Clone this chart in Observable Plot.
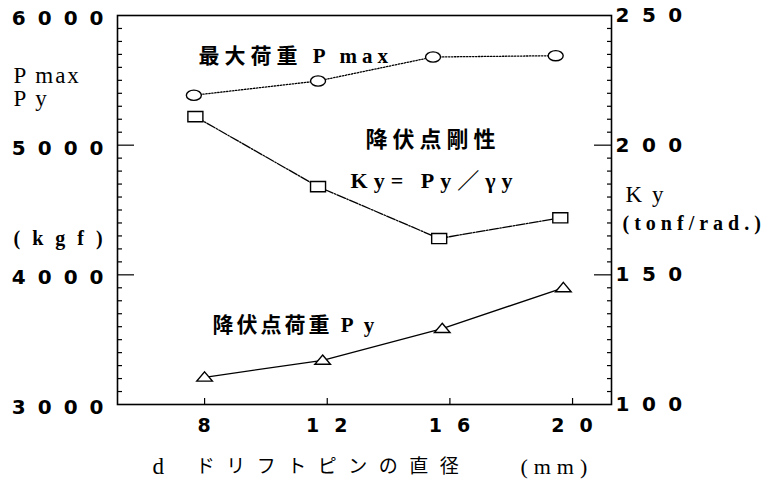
<!DOCTYPE html>
<html><head><meta charset="utf-8">
<script src="https://cdn.jsdelivr.net/npm/d3@7"></script>
<script src="https://cdn.jsdelivr.net/npm/@observablehq/plot@0.6"></script>
<style>
body{margin:0;background:#fff;}
g[aria-description="yl"] text{letter-spacing:12px;}
g[aria-description="yr"] text{letter-spacing:12.5px;}
g[aria-description="xl"] text{letter-spacing:15px;}
g[aria-description="ls2"] text{letter-spacing:2px;}
g[aria-description="ls3"] text{letter-spacing:3px;}
g[aria-description="ls5"] text{letter-spacing:5px;}
g[aria-description="ls6"] text{letter-spacing:6px;}
g[aria-description="ls11"] text{letter-spacing:11.5px;}
g[aria-description="ls12"] text{letter-spacing:12px;}
</style></head><body><div id="chart"></div>
<script>
// ---- data ----
const xTicks = [8, 12, 16, 20];
const leftTicks = [3000, 4000, 5000, 6000];
const rightTicks = [100, 150, 200, 250];

// 最大荷重 Pmax (kgf)
const pmaxD = [7.65, 11.7, 15.45, 19.45];
const pmaxV = [5385, 5495, 5680, 5690];
// 降伏点剛性 Ky (tonf/rad.)
const kyD = [7.7, 11.7, 15.65, 19.6];
const kyV = [211, 184, 164, 172];
// 降伏点荷重 Py (kgf)
const pyD = [8.0, 11.85, 15.75, 19.7];
const pyV = [3210, 3340, 3585, 3900];

// text labels (data units)
const labelText = ["最大荷重 P max", "降伏点剛性", "Ky= Py／γy", "降伏点荷重 P y"];
const labelD = [7.8, 13.25, 12.76, 8.26];
const labelV = [5684, 5044, 4727, 3609];

// ---- helpers ----
const ky2y = k => 3000 + (k - 100) * 20;
const y2ky = v => (v - 3000) / 20 + 100;
const tbl = (ds, vs, f = v => v) => ds.map((d, i) => ({d, v: f(vs[i])}));
const pmaxData = tbl(pmaxD, pmaxV);
const kyData = tbl(kyD, kyV, ky2y);
const pyData = tbl(pyD, pyV);

const ellipse = {draw(ctx, size) {
  const r = Math.sqrt(size / Math.PI), rx = r * 1.25, ry = r * 0.85, k = 0.5523;
  ctx.moveTo(rx, 0);
  ctx.bezierCurveTo(rx, ry * k, rx * k, ry, 0, ry);
  ctx.bezierCurveTo(-rx * k, ry, -rx, ry * k, -rx, 0);
  ctx.bezierCurveTo(-rx, -ry * k, -rx * k, -ry, 0, -ry);
  ctx.bezierCurveTo(rx * k, -ry, rx, -ry * k, rx, 0);
  ctx.closePath();
}};
const rectSym = {draw(ctx, size) {
  const r = Math.sqrt(size / Math.PI), w = r * 1.25, h = r * 0.85;
  ctx.moveTo(-w, -h); ctx.lineTo(w, -h); ctx.lineTo(w, h); ctx.lineTo(-w, h); ctx.closePath();
}};
const triSym = {draw(ctx, size) {
  const r = Math.sqrt(size / Math.PI), w = r * 1.3;
  ctx.moveTo(0, -r * 0.9); ctx.lineTo(w, r * 0.65); ctx.lineTo(-w, r * 0.65); ctx.closePath();
}};

const leftMinor = d3.range(3100, 6000, 100).filter(v => v % 1000 !== 0);
const rightMinor = d3.range(105, 250, 5).filter(v => v % 50 !== 0).map(ky2y);
const rightMajor = [150, 200].map(ky2y);

const serif = "'Liberation Serif', 'Noto Sans CJK JP', serif";
const digits = "'DejaVu Sans', sans-serif";
const sw = 1.4;

function txt(text, d, v, size, ls, opts = {}) {
  return Plot.text([text], {x: () => d, y: () => v, text: t => t, textAnchor: "start",
    fontSize: size, fontFamily: serif, fill: "black", ariaDescription: ls, ...opts});
}

const chart = Plot.plot({
  width: 772, height: 484,
  marginLeft: 117, marginRight: 161, marginTop: 15, marginBottom: 80,
  style: {background: "white", color: "black", overflow: "visible"},
  x: {domain: [5.16, 21.27], label: null},
  y: {domain: [3000, 6000], label: null},
  marks: [
    // inward ticks
    Plot.axisY(leftMinor, {anchor: "left", tickSize: -5, fill: "none", label: null, strokeWidth: 1.2}),
    Plot.axisY([4000, 5000], {anchor: "left", tickSize: -17, fill: "none", label: null, strokeWidth: 1.2}),
    Plot.axisY(rightMinor, {anchor: "right", tickSize: -5, fill: "none", label: null, strokeWidth: 1.2}),
    Plot.axisY(rightMajor, {anchor: "right", tickSize: -18, fill: "none", label: null, strokeWidth: 1.2}),
    Plot.axisX(xTicks, {anchor: "bottom", tickSize: -6, fill: "none", label: null, strokeWidth: 1.2}),
    // tick labels
    Plot.axisY(leftTicks, {anchor: "left", tickSize: 0, tickPadding: 2, label: null,
      tickFormat: v => String(v), dy: 3,
      fontSize: 20, fontFamily: digits, fontWeight: "bold", ariaDescription: "yl"}),
    Plot.axisY(rightTicks.map(ky2y), {anchor: "right", tickSize: 0, tickPadding: 4, label: null,
      tickFormat: v => String(y2ky(v)), fontSize: 20, fontFamily: digits, fontWeight: "bold", ariaDescription: "yr"}),
    Plot.axisX(xTicks, {anchor: "bottom", tickSize: 0, tickPadding: 14, label: null, dx: 7,
      fontSize: 19, fontFamily: digits, fontWeight: "bold", ariaDescription: "xl"}),
    Plot.frame({stroke: "black", strokeWidth: 1.6}),
    // series
    Plot.line(pmaxData, {x: "d", y: "v", stroke: "black", strokeWidth: 1.3, strokeDasharray: "1.4 1.6"}),
    Plot.line(kyData, {x: "d", y: "v", stroke: "black", strokeWidth: 1.3, strokeDasharray: "9 1.5 1.5 1.5"}),
    Plot.line(pyData, {x: "d", y: "v", stroke: "black", strokeWidth: 1.3}),
    Plot.dot(pmaxData, {x: "d", y: "v", symbol: ellipse, r: 6, fill: "white", stroke: "black", strokeWidth: sw}),
    Plot.dot(kyData, {x: "d", y: "v", symbol: rectSym, r: 6, fill: "white", stroke: "black", strokeWidth: sw}),
    Plot.dot(pyData, {x: "d", y: "v", symbol: triSym, r: 6, fill: "white", stroke: "black", strokeWidth: sw}),
    // annotations inside
    txt(labelText[0], labelD[0], labelV[0], 21, "ls5", {fontWeight: "bold"}),
    txt(labelText[1], labelD[1], labelV[1], 22, "ls5", {fontWeight: "bold"}),
    txt(labelText[2], labelD[2], labelV[2], 22, "ls6", {fontWeight: "bold"}),
    txt(labelText[3], labelD[3], labelV[3], 21, "ls3", {fontWeight: "bold"}),
    // axis titles
    txt("P max", 1.77, 5537, 23, "ls2"),
    txt("P y", 1.77, 5360, 23, "ls2"),
    txt("(kgf)", 1.77, 4280, 20, "ls12", {fontWeight: "bold"}),
    txt("K y", 21.73, 4620, 23, "ls2"),
    txt("(tonf/rad.)", 21.63, 4396, 20, "ls5", {fontWeight: "bold"}),
    txt("d", 6.3, 2522, 23, "ls2"),
    txt("ドリフトピンの直径", 7.71, 2522, 19, "ls11", {fontFamily: "'Noto Sans CJK JP', sans-serif"}),
    txt("(mm)", 18.3, 2522, 22, "ls6")
  ]
});
document.getElementById("chart").appendChild(chart);
</script>
</body></html>
